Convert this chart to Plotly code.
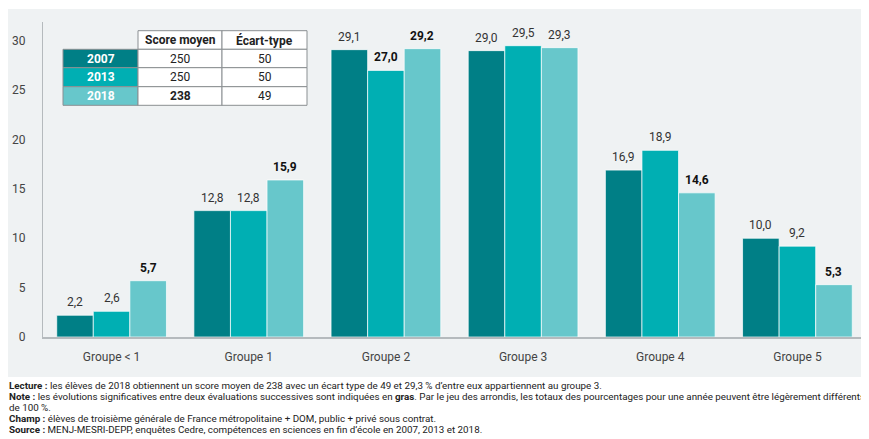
import plotly.graph_objects as go

# ---------------- data ----------------
categories = ["Groupe < 1", "Groupe 1", "Groupe 2", "Groupe 3", "Groupe 4", "Groupe 5"]
years = ["2007", "2013", "2018"]
values_2007 = [2.2, 12.8, 29.1, 29.0, 16.9, 10.0]
values_2013 = [2.6, 12.8, 27.0, 29.5, 18.9, 9.2]
values_2018 = [5.7, 15.9, 29.2, 29.3, 14.6, 5.3]
bold_2007 = [False, False, False, False, False, False]
bold_2013 = [False, False, True, False, False, False]
bold_2018 = [True, True, True, False, True, True]
y_ticks = [0, 5, 10, 15, 20, 25, 30]

table_header = ["Score moyen", "Écart-type"]
table_scores = ["250", "250", "238"]
table_sd = ["50", "50", "49"]
table_score_bold = [False, False, True]
table_sd_bold = [False, False, False]

notes = [
    ("Lecture :", " les élèves de 2018 obtiennent un score moyen de 238 avec un écart type de 49 et 29,3 % d’entre eux appartiennent au groupe 3."),
    ("Note :", " les évolutions significatives entre deux évaluations successives sont indiquées en <b>gras</b>. Par le jeu des arrondis, les totaux des pourcentages pour une année peuvent être légèrement différents"),
    ("", "de 100 %."),
    ("Champ :", " élèves de troisième générale de France métropolitaine + DOM, public + privé sous contrat."),
    ("Source :", " MENJ-MESRI-DEPP, enquêtes Cedre, compétences en sciences en fin d’école en 2007, 2013 et 2018."),
]

colors = ["#007f86", "#00afb3", "#67c7cb"]
series = [values_2007, values_2013, values_2018]
bolds = [bold_2007, bold_2013, bold_2018]

# ---------------- layout geometry (page pixels) ----------------
OFF = 8                      # default body margin of the html page
PAGE_W, PAGE_H = 869, 439
W, H = PAGE_W - OFF, PAGE_H - OFF
PLOT_L, PLOT_R, PLOT_T, PLOT_B = 43, 866, 22, 337   # in page pixels
L = PLOT_L - OFF
R = W - (PLOT_R - OFF)
T = PLOT_T - OFF
B = H - (PLOT_B - OFF)
PW = W - L - R
PH = H - T - B
Y_MAX = 31.9
FONT = "Roboto"


def px2x(px):
    return (px - OFF - L) / PW


def py2y(py):
    return (H - B - (py - OFF)) / PH


fig = go.Figure()
for name, vals, col in zip(years, series, colors):
    fig.add_trace(go.Bar(
        x=categories, y=vals, name=name,
        marker=dict(color=col, line=dict(color="rgba(255,255,255,0.7)", width=1)),
        hoverinfo="skip",
    ))

annotations = []
bargap = 0.2
bar_px = PW / len(categories) * (1 - bargap) / len(years)
for i, (vals, bl) in enumerate(zip(series, bolds)):
    for c, v, b in zip(categories, vals, bl):
        t = f"{v:.1f}".replace(".", ",")
        annotations.append(dict(
            x=c, y=v, xref="x", yref="y", text=f"<b>{t}</b>" if b else t,
            showarrow=False, yanchor="middle", xanchor="center",
            xshift=(i - 1) * bar_px, yshift=13,
            font=dict(family=FONT, size=12, color="#111" if b else "#333"),
        ))

shapes = []
# light grey panel
shapes.append(dict(type="rect", xref="paper", yref="paper",
                   x0=px2x(7), x1=px2x(PAGE_W + 2), y0=py2y(377), y1=py2y(9),
                   fillcolor="#eff2f3", line=dict(width=0), layer="below"))

# ---------------- table ----------------
col_x = [63, 138, 222, 307]
row_y = [30.7, 49.3, 67.7, 86.7, 105.3]
grid = "#8a8f92"
for j, h in enumerate(table_header):
    x0, x1 = col_x[j + 1], col_x[j + 2]
    y0, y1 = row_y[0], row_y[1]
    shapes.append(dict(type="rect", xref="paper", yref="paper",
                       x0=px2x(x0), x1=px2x(x1), y0=py2y(y1), y1=py2y(y0),
                       fillcolor="white", line=dict(color=grid, width=1)))
    annotations.append(dict(x=px2x((x0 + x1) / 2), y=py2y((y0 + y1) / 2), xref="paper", yref="paper",
                            text=f"<b>{h}</b>", showarrow=False, xanchor="center", yanchor="middle",
                            font=dict(family=FONT, size=12, color="#222")))
for r, (yr, sc, sd, scb, sdb) in enumerate(zip(years, table_scores, table_sd, table_score_bold, table_sd_bold)):
    y0, y1 = row_y[r + 1], row_y[r + 2]
    shapes.append(dict(type="rect", xref="paper", yref="paper",
                       x0=px2x(col_x[0]), x1=px2x(col_x[1]), y0=py2y(y1), y1=py2y(y0),
                       fillcolor=colors[r], line=dict(color=grid, width=1)))
    annotations.append(dict(x=px2x((col_x[0] + col_x[1]) / 2), y=py2y((y0 + y1) / 2), xref="paper", yref="paper",
                            text=f"<b>{yr}</b>", showarrow=False, xanchor="center", yanchor="middle",
                            font=dict(family=FONT, size=12, color="white")))
    for j, (val, bb) in enumerate([(sc, scb), (sd, sdb)]):
        x0, x1 = col_x[j + 1], col_x[j + 2]
        shapes.append(dict(type="rect", xref="paper", yref="paper",
                           x0=px2x(x0), x1=px2x(x1), y0=py2y(y1), y1=py2y(y0),
                           fillcolor="white", line=dict(color=grid, width=1)))
        annotations.append(dict(x=px2x((x0 + x1) / 2), y=py2y((y0 + y1) / 2), xref="paper", yref="paper",
                                text=f"<b>{val}</b>" if bb else val, showarrow=False,
                                xanchor="center", yanchor="middle",
                                font=dict(family=FONT, size=12, color="#222")))

# ---------------- notes ----------------
note_y = [385.5, 396.8, 407.5, 418.7, 429.5]
for (lab, txt), ny in zip(notes, note_y):
    text = (f"<b>{lab}</b>" if lab else "") + txt
    annotations.append(dict(x=px2x(7), y=py2y(ny), xref="paper", yref="paper",
                            text=text, showarrow=False, xanchor="left", yanchor="middle",
                            font=dict(family=FONT, size=9.8, color="#222")))

fig.update_layout(
    width=W, height=H,
    margin=dict(l=L, r=R, t=T, b=B, pad=0),
    paper_bgcolor="white", plot_bgcolor="rgba(0,0,0,0)",
    barmode="group", bargap=bargap, bargroupgap=0,
    showlegend=False,
    font=dict(family=FONT, size=12, color="#444"),
    annotations=annotations, shapes=shapes,
    xaxis=dict(showgrid=False, showline=True, linecolor="#b5babd", linewidth=2,
               ticks="", tickfont=dict(family=FONT, size=12, color="#444"),
               ticklabelstandoff=8, fixedrange=True),
    yaxis=dict(range=[0, Y_MAX], tickvals=y_ticks, showgrid=False, zeroline=False,
               showline=True, linecolor="#b5babd", linewidth=1,
               ticks="", tickfont=dict(family=FONT, size=12, color="#444"),
               ticklabelstandoff=14, fixedrange=True),
)

fig.write_html("out.html")
